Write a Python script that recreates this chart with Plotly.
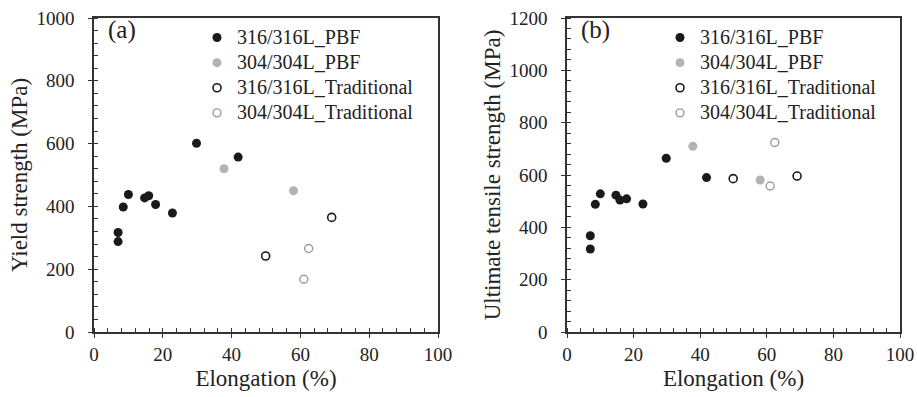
import plotly.graph_objects as go

# ---- data ----
elong_316_pbf = [7, 7, 8.5, 10, 14.7, 15.9, 17.9, 22.8, 29.8, 41.9]
ys_316_pbf = [317, 288, 398, 438, 427, 434, 406, 379, 601, 557]
uts_316_pbf = [368, 317, 488, 528, 523, 504, 509, 489, 664, 590]

elong_304_pbf = [37.8, 58.0]
ys_304_pbf = [520, 450]
uts_304_pbf = [710, 581]

elong_316_trad = [49.9, 69.1]
ys_316_trad = [242, 365]
uts_316_trad = [586, 596]

elong_304_trad = [62.4, 61.0]
ys_304_trad = [266, 168]
uts_304_trad = [724, 558]

names = ["316/316L_PBF", "304/304L_PBF", "316/316L_Traditional", "304/304L_Traditional"]
x_ticks = [0, 20, 40, 60, 80, 100]

FONT = "Liberation Serif, Times New Roman, serif"
BLACK = "#1a1a1a"
GRAY = "#b3b3b3"
GRAY_LINE = "#9a9a9a"
AX = "#333333"
TXT = "#222222"

styles = [
    dict(symbol="circle", size=9, color=BLACK, line=dict(width=0)),
    dict(symbol="circle", size=9, color=GRAY, line=dict(width=0)),
    dict(symbol="circle-open", size=8, color=BLACK, line=dict(width=1.6)),
    dict(symbol="circle-open", size=8, color=GRAY_LINE, line=dict(width=1.4)),
]

def leg_name(n):
    return "<span style='font-size:20px'>%s</span>" % n

fig = go.Figure()

left_sets = [(elong_316_pbf, ys_316_pbf), (elong_304_pbf, ys_304_pbf),
             (elong_316_trad, ys_316_trad), (elong_304_trad, ys_304_trad)]
right_sets = [(elong_316_pbf, uts_316_pbf), (elong_304_pbf, uts_304_pbf),
              (elong_316_trad, uts_316_trad), (elong_304_trad, uts_304_trad)]

for (x, y), nm, st in zip(left_sets, names, styles):
    fig.add_trace(go.Scatter(x=x, y=y, mode="markers", name=leg_name(nm), marker=st,
                             xaxis="x", yaxis="y", legend="legend"))
for (x, y), nm, st in zip(right_sets, names, styles):
    fig.add_trace(go.Scatter(x=x, y=y, mode="markers", name=leg_name(nm), marker=st,
                             xaxis="x2", yaxis="y2", legend="legend2"))

W, H = 917, 397
ydom = [1 - 332 / H, 1 - 18 / H]

def xaxis(dom, anchor):
    return dict(domain=dom, anchor=anchor, range=[0, 100], tickvals=x_ticks,
                showline=True, linecolor=AX, linewidth=1.5, mirror=True,
                ticks="outside", ticklen=4, tickwidth=1.2, tickcolor=AX,
                minor=dict(dtick=4, ticks="inside", ticklen=4, tickwidth=1, tickcolor=AX),
                showgrid=False, zeroline=False,
                tickfont=dict(family=FONT, size=19, color=TXT),
                title=dict(text="Elongation (%)", font=dict(family=FONT, size=23, color=TXT), standoff=6),
                automargin=False)

def yaxis(dom, anchor, rng, dtick, title):
    return dict(domain=dom, anchor=anchor, range=rng, dtick=dtick,
                showline=True, linecolor=AX, linewidth=1.5, mirror=True,
                ticks="outside", ticklen=4, tickwidth=1.2, tickcolor=AX,
                minor=dict(dtick=40, ticks="inside", ticklen=4, tickwidth=1, tickcolor=AX),
                showgrid=False, zeroline=False, ticklabelstandoff=10,
                tickfont=dict(family=FONT, size=19, color=TXT),
                title=dict(text=title, font=dict(family=FONT, size=23, color=TXT), standoff=2),
                automargin=False)

leg_common = dict(font=dict(family=FONT, size=17, color=TXT), bgcolor="rgba(0,0,0,0)",
                  borderwidth=0, xanchor="left", yanchor="top", itemwidth=30,
                  tracegroupgap=0)

fig.update_layout(
    width=W, height=H,
    margin=dict(l=0, r=0, t=0, b=0),
    font=dict(family=FONT, color=TXT),
    paper_bgcolor="white", plot_bgcolor="white",
    xaxis=xaxis([94 / W, 438 / W], "y"),
    yaxis=yaxis(ydom, "x", [0, 1000], 200, "Yield strength (MPa)"),
    xaxis2=xaxis([567 / W, 900 / W], "y2"),
    yaxis2=yaxis(ydom, "x2", [0, 1200], 200, "Ultimate tensile strength (MPa)"),
    legend=dict(x=197 / W, y=1 - 20 / H, **leg_common),
    legend2=dict(x=660 / W, y=1 - 20 / H, **leg_common),
    showlegend=True,
    annotations=[
        dict(text="(a)", x=0.035, y=1 - 12 / 314, xref="x domain", yref="y domain",
             xanchor="left", yanchor="middle", showarrow=False,
             font=dict(family=FONT, size=25, color=TXT)),
        dict(text="(b)", x=0.035, y=1 - 12 / 314, xref="x2 domain", yref="y2 domain",
             xanchor="left", yanchor="middle", showarrow=False,
             font=dict(family=FONT, size=25, color=TXT)),
    ],
)

fig.write_html("out.html", config={"displayModeBar": False},
               post_script="document.body.style.margin='0';document.body.style.padding='0';")
